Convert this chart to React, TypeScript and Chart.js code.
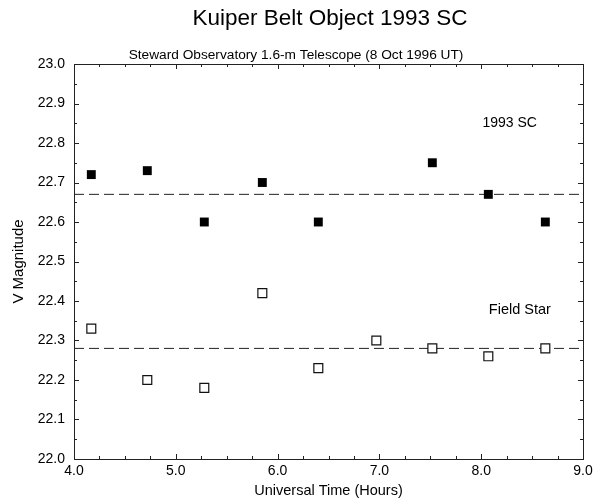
import React, { useEffect, useRef } from "react";
import { Chart, registerables } from "chart.js";

Chart.register(...registerables);

// ---- data ----
const kboHours = [4.17, 4.72, 5.28, 5.85, 6.4, 7.52, 8.07, 8.63];
const kboMag = [22.72, 22.73, 22.6, 22.7, 22.6, 22.75, 22.67, 22.6];
const starHours = [4.17, 4.72, 5.28, 5.85, 6.4, 6.97, 7.52, 8.07, 8.63];
const starMag = [22.33, 22.2, 22.18, 22.42, 22.23, 22.3, 22.28, 22.26, 22.28];
const kboMean = 22.67;
const starMean = 22.28;
const xRange = [4.0, 9.0];
const yRange = [22.0, 23.0];
const xStep = 1.0;
const yStep = 0.1;
const xMinorStep = 0.25;
const yMinorStep = 0.05;

const titleText = "Kuiper Belt Object 1993 SC";
const subtitleText = "Steward Observatory 1.6-m Telescope (8 Oct 1996 UT)";
const xTitle = "Universal Time (Hours)";
const yTitle = "V Magnitude";
const annotationTexts = ["1993 SC", "Field Star"];
const annotationX = [8.28, 8.38];
const annotationY = [22.85, 22.376];

const FONT = '"Liberation Sans", Arial, Helvetica, sans-serif';

const framePlugin = {
  id: "frameTicks",
  beforeDatasetsDraw(chart: any) {
    const { ctx, chartArea: a, scales } = chart;
    const xs = scales.x;
    const ys = scales.y;
    ctx.save();
    ctx.strokeStyle = "#222";
    ctx.lineWidth = 1;
    ctx.strokeRect(Math.round(a.left) + 0.5, Math.round(a.top) + 0.5, Math.round(a.right - a.left), Math.round(a.bottom - a.top));
    ctx.beginPath();
    const nx = Math.round((xRange[1] - xRange[0]) / xMinorStep);
    for (let i = 0; i <= nx; i++) {
      const v = xRange[0] + i * xMinorStep;
      const major = Math.abs(v / xStep - Math.round(v / xStep)) < 1e-6;
      const len = major ? 5 : 3;
      const px = Math.round(xs.getPixelForValue(v)) + 0.5;
      ctx.moveTo(px, a.bottom);
      ctx.lineTo(px, a.bottom - len);
      ctx.moveTo(px, a.top);
      ctx.lineTo(px, a.top + len);
    }
    const ny = Math.round((yRange[1] - yRange[0]) / yMinorStep);
    for (let i = 0; i <= ny; i++) {
      const v = yRange[0] + i * yMinorStep;
      const major = i % 2 === 0;
      const len = major ? 5 : 3;
      const py = Math.round(ys.getPixelForValue(v)) + 0.5;
      ctx.moveTo(a.left, py);
      ctx.lineTo(a.left + len, py);
      ctx.moveTo(a.right, py);
      ctx.lineTo(a.right - len, py);
    }
    ctx.stroke();
    ctx.restore();
  },
  afterDraw(chart: any) {
    const { ctx, scales } = chart;
    ctx.save();
    ctx.fillStyle = "#000";
    ctx.textAlign = "center";
    ctx.textBaseline = "alphabetic";
    ctx.font = `22.5px ${FONT}`;
    ctx.fillText(titleText, 330, 25);
    ctx.font = `13.7px ${FONT}`;
    ctx.fillText(subtitleText, 296, 59);
    ctx.textBaseline = "middle";
    annotationTexts.forEach((t, i) => {
      ctx.font = `${i === 0 ? 14 : 14.5}px ${FONT}`;
      ctx.fillText(t, scales.x.getPixelForValue(annotationX[i]), scales.y.getPixelForValue(annotationY[i]));
    });
    ctx.restore();
  },
};

export default function App() {
  const ref = useRef<HTMLCanvasElement | null>(null);
  useEffect(() => {
    if (!ref.current) return;
    Chart.defaults.font.family = FONT;
    Chart.defaults.color = "#000";
    const chart = new Chart(ref.current, {
      type: "scatter",
      data: {
        datasets: [
          {
            label: "1993 SC",
            data: kboHours.map((h, i) => ({ x: h, y: kboMag[i] })),
            pointStyle: "rect",
            pointRadius: 6.3,
            backgroundColor: "#000",
            borderColor: "#000",
            borderWidth: 0,
          },
          {
            label: "Field Star",
            data: starHours.map((h, i) => ({ x: h, y: starMag[i] })),
            pointStyle: "rect",
            pointRadius: 6.3,
            backgroundColor: "#fff",
            borderColor: "#111",
            borderWidth: 1.2,
          },
          {
            type: "line",
            label: "1993 SC mean",
            data: [
              { x: xRange[0], y: kboMean },
              { x: xRange[1], y: kboMean },
            ],
            borderColor: "#222",
            borderWidth: 1,
            borderDash: [10, 5],
            pointRadius: 0,
            fill: false,
          },
          {
            type: "line",
            label: "Field Star mean",
            data: [
              { x: xRange[0], y: starMean },
              { x: xRange[1], y: starMean },
            ],
            borderColor: "#222",
            borderWidth: 1,
            borderDash: [10, 5],
            pointRadius: 0,
            fill: false,
          },
        ],
      } as any,
      options: {
        animation: false,
        responsive: false,
        devicePixelRatio: 1,
        layout: { padding: { left: 0, top: 64, right: 11, bottom: 0 } },
        plugins: { legend: { display: false }, tooltip: { enabled: false }, title: { display: false } },
        scales: {
          x: {
            type: "linear",
            min: xRange[0],
            max: xRange[1],
            grid: { display: false, drawTicks: false },
            border: { display: false },
            ticks: {
              stepSize: xStep,
              padding: 4,
              font: { size: 14, family: FONT },
              color: "#000",
              callback: (v: any) => Number(v).toFixed(1),
            },
            title: { display: true, text: xTitle, font: { size: 14.5, family: FONT }, color: "#000", padding: { top: 0, bottom: 1 } },
            afterFit: (s: any) => {
              s.height = 42;
              s.paddingLeft = 0;
              s.paddingRight = 0;
            },
          },
          y: {
            type: "linear",
            min: yRange[0],
            max: yRange[1],
            grid: { display: false, drawTicks: false },
            border: { display: false },
            ticks: {
              stepSize: yStep,
              padding: 9,
              font: { size: 14, family: FONT },
              color: "#000",
              callback: (v: any) => Number(v).toFixed(1),
            },
            title: { display: true, text: yTitle, font: { size: 15, family: FONT }, color: "#000", padding: { top: 10, bottom: 0 } },
            afterFit: (s: any) => {
              s.width = 74;
              s.paddingTop = 0;
              s.paddingBottom = 0;
            },
          },
        },
      } as any,
      plugins: [framePlugin],
    });
    return () => chart.destroy();
  }, []);
  return (
    <div style={{ position: "fixed", left: 0, top: 0, width: 594, height: 501, background: "#fff" }}>
      <canvas ref={ref} width={594} height={501} style={{ display: "block", width: 594, height: 501 }} />
    </div>
  );
}
